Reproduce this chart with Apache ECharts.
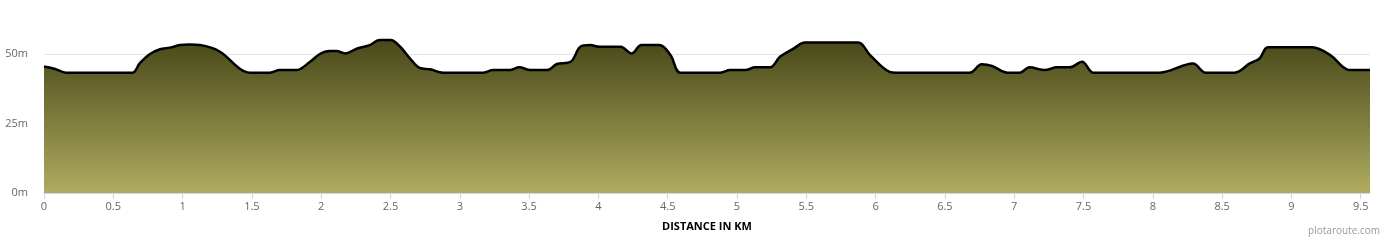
<!DOCTYPE html>
<html><head><meta charset="utf-8">
<script src="https://cdn.jsdelivr.net/npm/echarts@6/dist/echarts.min.js"></script>
<style>html,body{margin:0;padding:0;background:#fff}#c{width:1390px;height:240px}</style>
</head><body><div id="c"></div>
<script>
const distanceKm = [0, 0.08, 0.16, 0.3, 0.5, 0.64, 0.69, 0.765, 0.837, 0.91, 0.98, 1.05, 1.126, 1.27, 1.41, 1.486, 1.63, 1.70, 1.82, 1.92, 1.99, 2.06, 2.11, 2.17, 2.26, 2.35, 2.42, 2.50, 2.57, 2.64, 2.71, 2.785, 2.88, 3.0, 3.17, 3.24, 3.36, 3.43, 3.51, 3.63, 3.70, 3.80, 3.87, 3.94, 4.01, 4.16, 4.24, 4.31, 4.44, 4.52, 4.59, 4.75, 4.88, 4.95, 5.06, 5.13, 5.24, 5.31, 5.41, 5.49, 5.7, 5.875, 5.96, 6.10, 6.15, 6.4, 6.68, 6.765, 6.84, 6.95, 7.04, 7.11, 7.22, 7.31, 7.40, 7.49, 7.57, 7.8, 8.05, 8.29, 8.38, 8.59, 8.70, 8.77, 8.83, 9.0, 9.15, 9.28, 9.37, 9.42, 9.567];
const elevationM = [45.5, 44.6, 43.3, 43.3, 43.3, 43.3, 46.6, 50, 51.7, 52.3, 53.2, 53.4, 53.2, 50.8, 44.8, 43.3, 43.3, 44.2, 44.2, 47.2, 50, 51.1, 51.1, 50.2, 52, 53.2, 55, 55, 52.6, 48.4, 45, 44.5, 43.3, 43.3, 43.3, 44.2, 44.2, 45.2, 44.2, 44.2, 46.4, 47.2, 52.6, 53.2, 52.6, 52.6, 50.2, 53.2, 53.2, 49.6, 43.3, 43.3, 43.3, 44.2, 44.2, 45.2, 45.2, 49, 52, 54.1, 54.1, 54.1, 49.6, 43.6, 43.3, 43.3, 43.3, 46.3, 45.7, 43.3, 43.3, 45.2, 44.2, 45.2, 45.2, 47.2, 43.3, 43.3, 43.3, 46.6, 43.3, 43.3, 46.6, 48.4, 52.4, 52.4, 52.4, 49.6, 45.4, 44.2, 44.2];
const yTicks = [0, 25, 50];
const xAxisTitle = 'DISTANCE IN KM';
const credit = 'plotaroute.com';

const chart = echarts.init(document.getElementById('c'));
chart.setOption({
  animation: false,
  textStyle: {fontFamily: 'Open Sans'},
  grid: {left: 44, right: 20, top: 54, bottom: 47},
  xAxis: {
    type: 'value', min: 0, max: 9.567, interval: 0.5,
    name: xAxisTitle, nameLocation: 'middle', nameGap: 28,
    nameTextStyle: {fontWeight: 'bold', fontSize: 11, color: '#000', fontFamily: 'Open Sans'},
    axisLine: {show: true, lineStyle: {color: '#ccd6eb'}},
    axisTick: {show: true, length: 6, lineStyle: {color: '#ccd6eb'}},
    axisLabel: {showMaxLabel: false, color: '#666', fontSize: 11, margin: 8,
      formatter: v => String(+v.toFixed(1))},
    splitLine: {show: false}
  },
  yAxis: {
    type: 'value', min: 0, max: 50, interval: 25,
    axisLine: {show: false}, axisTick: {show: false},
    axisLabel: {color: '#666', fontSize: 11, margin: 16, formatter: v => yTicks.includes(v) ? v + 'm' : ''},
    splitLine: {lineStyle: {color: '#e6e6e6'}}
  },
  graphic: [{type: 'text', right: 10, bottom: 4,
    style: {text: credit, fill: '#999', fontSize: 10, fontFamily: 'Open Sans'}}],
  series: [{
    type: 'line', smooth: 0.35, clip: false, symbol: 'none',
    data: distanceKm.map((d, i) => [d, elevationM[i]]),
    lineStyle: {color: '#000', width: 2.5},
    areaStyle: {opacity: 1, color: new echarts.graphic.LinearGradient(0, 0, 0, 1, [
      {offset: 0, color: '#484819'}, {offset: 1, color: '#afac60'}])}
  }]
});
</script></body></html>
